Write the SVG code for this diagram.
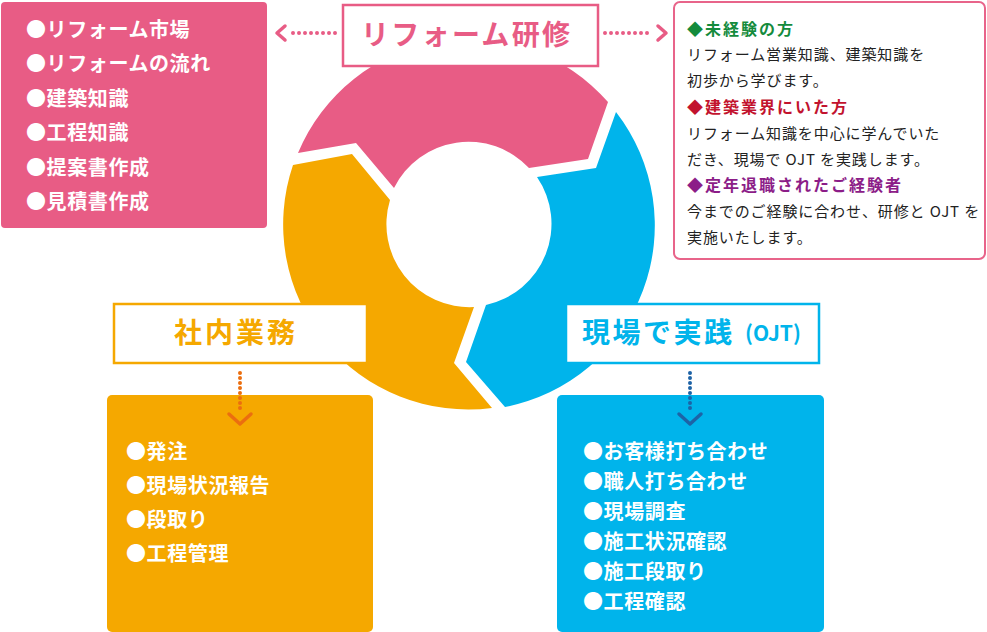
<svg xmlns="http://www.w3.org/2000/svg" width="987" height="632" viewBox="0 0 987 632">
<style>
text{font-family:"Noto Sans CJK JP","Noto Sans",sans-serif}
.w{fill:#fff;font-weight:700;font-size:20px;letter-spacing:0.6px}
.hd{font-weight:700;font-size:16px;letter-spacing:2px}
.bd{fill:#222;font-size:15px;letter-spacing:0.9px}
.pk{fill:#E85C85}
.dotp{stroke:#E85C85;stroke-width:4;stroke-linecap:round;stroke-dasharray:0 6;fill:none}
.chev{fill:none;stroke-width:3.5;stroke-linecap:round;stroke-linejoin:round}
.vdot{stroke-width:4;stroke-linecap:round;stroke-dasharray:0 5;fill:none}
</style>
<rect width="987" height="632" fill="#fff"/>
<g id="ring">
<path id="seg-pink" fill="#E85C85" d="M298,153 A185,185 0 0 1 608,102 L588,159 L529,168 A83,83 0 0 0 394,188 L356,143 Z"/>
<path id="seg-blue" fill="#00B4EB" d="M616,112 A185,185 0 0 1 505,407 L466,362 L486,305 A83,83 0 0 0 537,177 L596,168 Z"/>
<path id="seg-yellow" fill="#F5A800" d="M492,408 A185,185 0 0 1 293,165 L352,154 L390,200 A83,83 0 0 0 474,307 L454,363 Z"/>
</g>
<g id="title">
<rect x="343" y="5" width="255" height="61" fill="#fff" stroke="#E85C85" stroke-width="2.5"/>
<text x="361" y="45" class="pk" font-size="28" font-weight="700" letter-spacing="2.3">リフォーム研修</text>
</g>
<g id="training-list">
<rect x="1" y="2" width="266" height="226" rx="4" fill="#E85C85"/>
<text class="w" x="26" y="36.5">●リフォーム市場</text>
<text class="w" x="26" y="71">●リフォームの流れ</text>
<text class="w" x="26" y="105.5">●建築知識</text>
<text class="w" x="26" y="140">●工程知識</text>
<text class="w" x="26" y="174.5">●提案書作成</text>
<text class="w" x="26" y="209">●見積書作成</text>
</g>
<g id="target-info">
<rect x="674" y="2" width="311" height="257" rx="6" fill="#fff" stroke="#E8648A" stroke-width="2"/>
<text class="hd" x="687" y="35" fill="#148B3C">◆未経験の方</text>
<text class="bd" x="687" y="59.7">リフォーム営業知識、建築知識を</text>
<text class="bd" x="687" y="85.7">初歩から学びます。</text>
<text class="hd" x="687" y="113" fill="#C2132E">◆建築業界にいた方</text>
<text class="bd" x="687" y="138.7">リフォーム知識を中心に学んでいた</text>
<text class="bd" x="687" y="164.7">だき、現場で OJT を実践します。</text>
<text class="hd" x="687" y="191" fill="#8C1D88">◆定年退職されたご経験者</text>
<text class="bd" x="687" y="216.7">今までのご経験に合わせ、研修と OJT を</text>
<text class="bd" x="687" y="242.7">実施いたします。</text>
</g>
<g id="office">
<rect x="114" y="304" width="253" height="59" fill="#fff" stroke="#F5A800" stroke-width="2.5"/>
<text x="174" y="343" fill="#F5A800" font-size="28" font-weight="700" letter-spacing="3">社内業務</text>
</g>
<g id="office-list">
<rect x="107" y="395" width="266" height="237" rx="5" fill="#F5A800"/>
<text class="w" x="126" y="458.5">●発注</text>
<text class="w" x="126" y="492.7">●現場状況報告</text>
<text class="w" x="126" y="526.9">●段取り</text>
<text class="w" x="126" y="561.1">●工程管理</text>
</g>
<g id="ojt">
<rect x="566" y="304" width="253" height="59" fill="#fff" stroke="#00B4EB" stroke-width="2.5"/>
<text x="582" y="343" fill="#00B4EB" font-size="28" font-weight="700" letter-spacing="2.5">現場で実践</text>
<text x="745" y="341" fill="#00B4EB" font-size="21" font-weight="700">(OJT)</text>
</g>
<g id="ojt-list">
<rect x="557" y="395" width="267" height="237" rx="5" fill="#00B4EB"/>
<text class="w" x="583" y="458.5">●お客様打ち合わせ</text>
<text class="w" x="583" y="488.6">●職人打ち合わせ</text>
<text class="w" x="583" y="518.7">●現場調査</text>
<text class="w" x="583" y="548.8">●施工状況確認</text>
<text class="w" x="583" y="578.9">●施工段取り</text>
<text class="w" x="583" y="609">●工程確認</text>
</g>
<g id="connectors">
<line class="dotp" x1="335" y1="33" x2="290" y2="33"/>
<polyline class="chev" stroke="#E85C85" points="285,26 277,33 285,40"/>
<line class="dotp" x1="605" y1="33" x2="651" y2="33"/>
<polyline class="chev" stroke="#E85C85" points="658,26 666,33 658,40"/>
<line class="vdot" x1="240" y1="373" x2="240" y2="409" stroke="#EB6E0F"/>
<polyline class="chev" stroke="#EB6E0F" stroke-width="4.5" points="229,414 240,424 251,414"/>
<line class="vdot" x1="690" y1="373" x2="690" y2="409" stroke="#1D63A6"/>
<polyline class="chev" stroke="#1D63A6" stroke-width="4.5" points="679,414 690,424 701,414"/>
</g>
</svg>
